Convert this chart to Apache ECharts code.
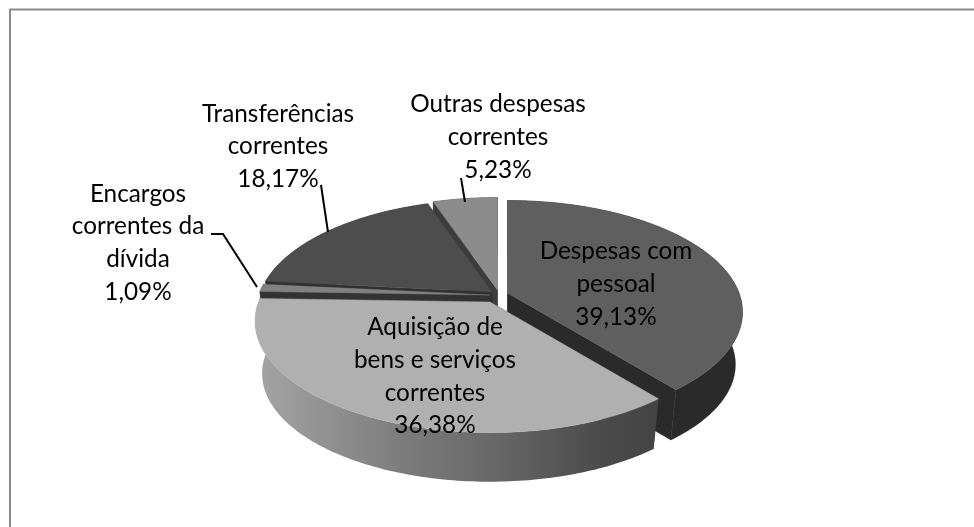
<!DOCTYPE html>
<html>
<head>
<meta charset="utf-8">
<style>html,body{margin:0;padding:0;background:#fff}#c{width:974px;height:527px}</style>
<script src="https://cdn.jsdelivr.net/npm/echarts@6/dist/echarts.min.js"></script>
</head>
<body>
<div id="c"></div>
<script>
const categories = ['Despesas com\npessoal', 'Aquisição de\nbens e serviços\ncorrentes', 'Encargos\ncorrentes da\ndívida', 'Transferências\ncorrentes', 'Outras despesas\ncorrentes'];
const values = [39.13, 36.38, 1.09, 18.17, 5.23];
const valueLabels = ['39,13%', '36,38%', '1,09%', '18,17%', '5,23%'];

// Appearance and layout of the 3D projection
const topColors = ['#5f5f5f', '#b0b0b0', '#808080', '#4d4d4d', '#8c8c8c'];
const wallColors = ['#2a2a2a', null, '#333333', '#303030', '#3c3c3c'];
const paintOrder = [4, 3, 2, 0, 1];
const VIEW = { cx: 499, cy: 296, R: 231.5, Ry: 108.3, k: 0.171, depth: 53, shrink: 0.03 };
const explode = [[8.5, -3], [-9, 6], [-9, -1], [-7, -4], [-1.5, -6]];
const labelCenters = [[616, 284], [435, 376.5], [138, 243], [278, 146.5], [498, 137]];
const leaders = [
  null, null,
  [[211, 234], [223, 234], [257, 287]],
  [[321, 185], [328, 232]],
  [[461, 178], [465, 202]]
];

const total = values.reduce((a, b) => a + b, 0);
const spans = [];
values.reduce((acc, v) => { const end = acc + v / total * 360; spans.push([acc, end]); return end; }, 0);

function project(i, deg, r, z) {
  const a = deg * Math.PI / 180;
  const ux = Math.sin(a) * r, uy = -Math.cos(a) * r;
  const s = 1 / (1 - VIEW.k * uy) * (1 - VIEW.shrink * z);
  return [
    VIEW.cx + explode[i][0] + VIEW.R * ux * s,
    VIEW.cy + explode[i][1] + VIEW.Ry * uy * s + VIEW.depth * z
  ];
}
function arc(i, r, z, reverse) {
  const pts = [];
  const [a, b] = spans[i];
  const n = Math.max(2, Math.ceil(b - a));
  for (let j = 0; j <= n; j++) pts.push(project(i, a + (b - a) * j / n, r, z));
  return reverse ? pts.reverse() : pts;
}
function poly(points, fill) {
  return { type: 'polygon', shape: { points }, style: { fill, stroke: typeof fill === 'string' ? fill : null, lineWidth: 0.4 } };
}
const wallGradient = {
  type: 'linear', global: true, x: 258, y: 0, x2: 660, y2: 0,
  colorStops: [
    { offset: 0, color: '#a4a4a4' }, { offset: 0.1, color: '#999999' },
    { offset: 0.35, color: '#7d7d7d' }, { offset: 0.6, color: '#666666' },
    { offset: 0.85, color: '#4b4b4b' }, { offset: 1, color: '#434343' }
  ]
};
function renderSlice(params, api) {
  const i = api.value(0);
  const wall = wallColors[i] || wallGradient;
  const [a, b] = spans[i];
  const sideColor = wallColors[i] || '#3a3a3a';
  const children = [
    poly([project(i, a, 0, 0), project(i, a, 1, 0), project(i, a, 1, 1), project(i, a, 0, 1)], sideColor),
    poly([project(i, b, 0, 0), project(i, b, 1, 0), project(i, b, 1, 1), project(i, b, 0, 1)], sideColor),
    poly(arc(i, 1, 0, false).concat(arc(i, 1, 1, true)), wall),
    poly([project(i, a, 0, 0)].concat(arc(i, 1, 0, false)), topColors[i])
  ];
  return { type: 'group', children };
}
function renderLabel(params, api) {
  const i = api.value(0);
  const children = [{
    type: 'text', x: labelCenters[i][0], y: labelCenters[i][1],
    style: {
      text: categories[i] + '\n' + valueLabels[i], fill: '#000',
      font: '24.3px Lato', align: 'center', verticalAlign: 'middle', lineHeight: 32.7
    }
  }];
  if (leaders[i]) children.push({
    type: 'polyline', shape: { points: leaders[i] },
    style: { stroke: '#000', lineWidth: 2, fill: null }
  });
  return { type: 'group', children };
}
const chart = echarts.init(document.getElementById('c'), null, { renderer: 'canvas' });
chart.setOption({
  animation: false,
  backgroundColor: '#fff',
  graphic: [
    { type: 'line', shape: { x1: 9.5, y1: 9.5, x2: 974, y2: 9.5 }, style: { stroke: '#8a8a8a', lineWidth: 2 } },
    { type: 'line', shape: { x1: 10, y1: 9, x2: 10, y2: 527 }, style: { stroke: '#8a8a8a', lineWidth: 2 } }
  ],
  series: [
    { type: 'custom', coordinateSystem: 'none', renderItem: renderSlice, data: paintOrder.map(i => [i, values[i]]), silent: true, z: 2 },
    { type: 'custom', coordinateSystem: 'none', renderItem: renderLabel, data: paintOrder.map(i => [i, values[i]]), silent: true, z: 3 }
  ]
});
</script>
</body>
</html>
